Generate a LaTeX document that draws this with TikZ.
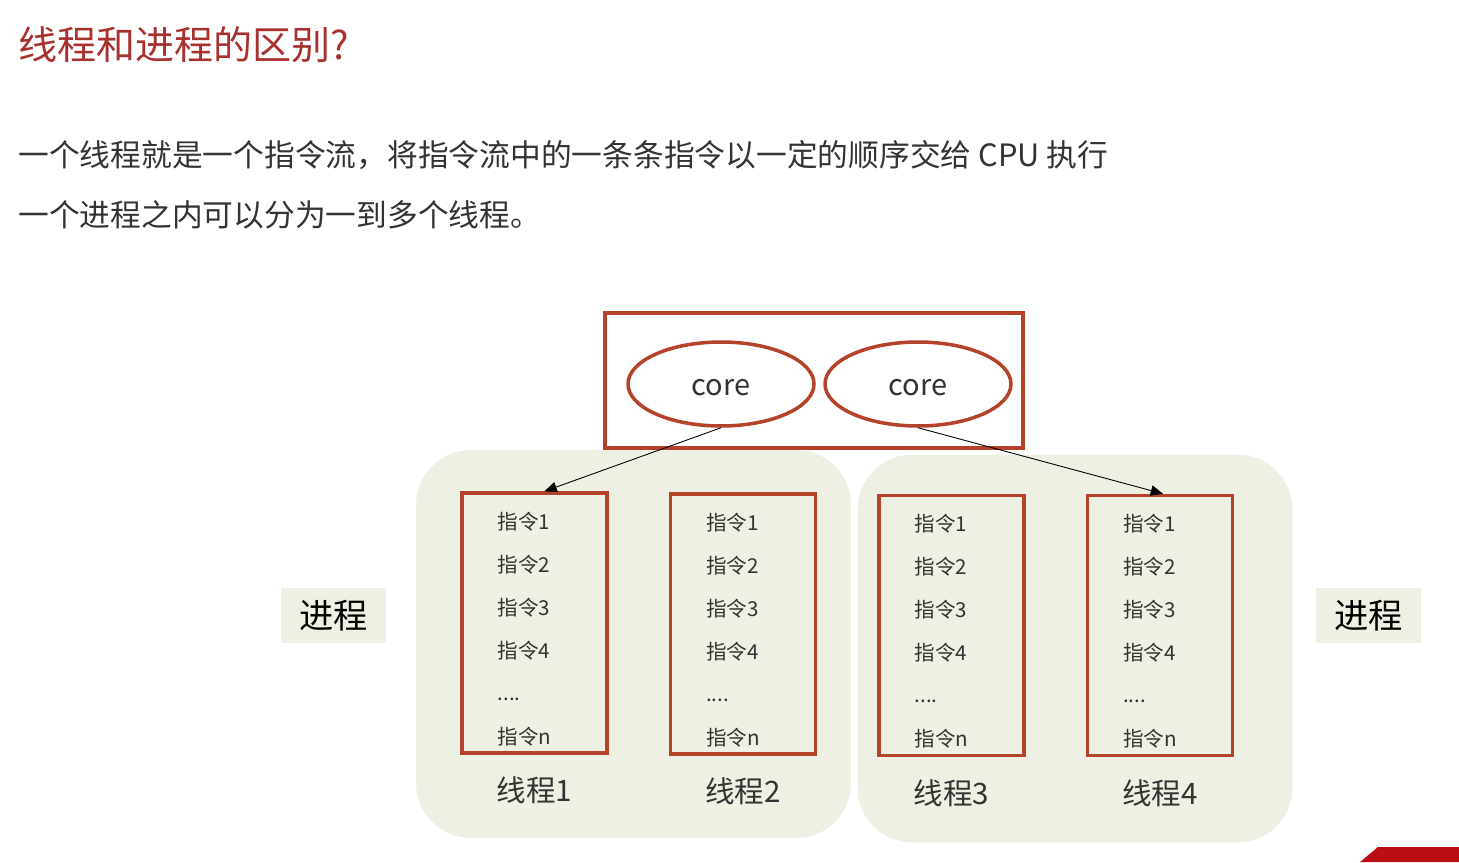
\documentclass[tikz,border=0pt]{standalone}
\usepackage{fontspec}
\setmainfont{Noto Sans CJK SC}
\usetikzlibrary{shapes.geometric, arrows.meta, positioning, calc}
\definecolor{BoxRed}{HTML}{B5432C}
\definecolor{TitleRed}{HTML}{A8312E}
\definecolor{PaleGreen}{HTML}{EDF0E2}
\definecolor{InkGray}{HTML}{333333}
\definecolor{LogoRed}{HTML}{B80E14}

\tikzset{
    procbg/.style={fill=PaleGreen, rounded corners=1.1cm, minimum width=8.7cm, minimum height=7.76cm, inner sep=0pt},
    threadbox/.style={draw=BoxRed, line width=2pt, minimum width=2.9cm, minimum height=5.2cm, inner sep=0pt},
    coreoval/.style={ellipse, draw=BoxRed, line width=2pt, minimum width=3.72cm, minimum height=1.68cm, text height=13pt, text depth=0pt, font=\fontsize{16.5}{18}\selectfont, text=InkGray},
    instr/.style={anchor=west, inner sep=0pt, font=\fontsize{11.7}{13}\selectfont, text=InkGray},
    tlabel/.style={inner sep=0pt, font=\fontsize{16.8}{18}\selectfont, text=InkGray},
    proctag/.style={fill=PaleGreen, minimum width=2.1cm, minimum height=1.1cm, font=\fontsize{19.5}{21}\selectfont, text=black},
    body/.style={anchor=west, inner sep=0pt, font=\fontsize{17.5}{19}\selectfont, text=InkGray},
}

\begin{document}
\begin{tikzpicture}[x=0.02cm, y=-0.02cm]
    \useasboundingbox[fill=white] (0,0) rectangle (1459,862);

    % Heading and text
    \node (title) [anchor=west, inner sep=0pt, text=TitleRed, font=\fontsize{22.2}{24}\selectfont] at (18,45) {线程和进程的区别?};
    \node (line1) [body] at (18,155) {一个线程就是一个指令流，将指令流中的一条条指令以一定的顺序交给 CPU 执行};
    \node (line2) [body] at (18,215) {一个进程之内可以分为一到多个线程。};

    % Processes
    \node (proc1) [procbg] at (633.5,644) {};
    \node (proc2) [procbg] at (1075,648.5) {};
    \node (tagl) [proctag] at (333.5,615.5) {进程};
    \node (tagr) [proctag] at (1368.5,615.5) {进程};

    % CPU with two cores
    \node (cpu) [draw=BoxRed, line width=2pt, minimum width=8.36cm, minimum height=2.7cm] at (814,380.5) {};
    \node (c1) [coreoval] at (721,384) {core};
    \node (c2) [coreoval] at (918,384) {core};

    % Threads
    \foreach \i/\x/\y in {1/534.5/623, 2/743/624, 3/951.5/625.5, 4/1160/625.5} {
        \node (t\i) [threadbox] at (\x,\y) {};
        \foreach \k/\dy/\txt in {1/30/指令1, 2/73/指令2, 3/116/指令3, 4/159/指令4, 5/208/{....}, 6/245/指令n}
            \node (t\i-\k) [instr] at ($(t\i.north west)+(37,\dy)$) {\txt};
        \node (l\i) [tlabel, below=0.44cm of t\i] {线程\i};
    }

    % Paths
    \draw[-{Triangle[length=7pt,width=6pt]}, line width=0.5pt] (c1.south) -- ([xshift=0.2cm]t1.north);
    \draw[-{Triangle[length=7pt,width=6pt]}, line width=0.5pt] (c2.south) -- ([xshift=0.06cm]t4.north);

    % Corner mark
    \fill[LogoRed] (1360,862) -- (1378,847) -- (1459,847) -- (1459,862) -- cycle;
\end{tikzpicture}
\end{document}
